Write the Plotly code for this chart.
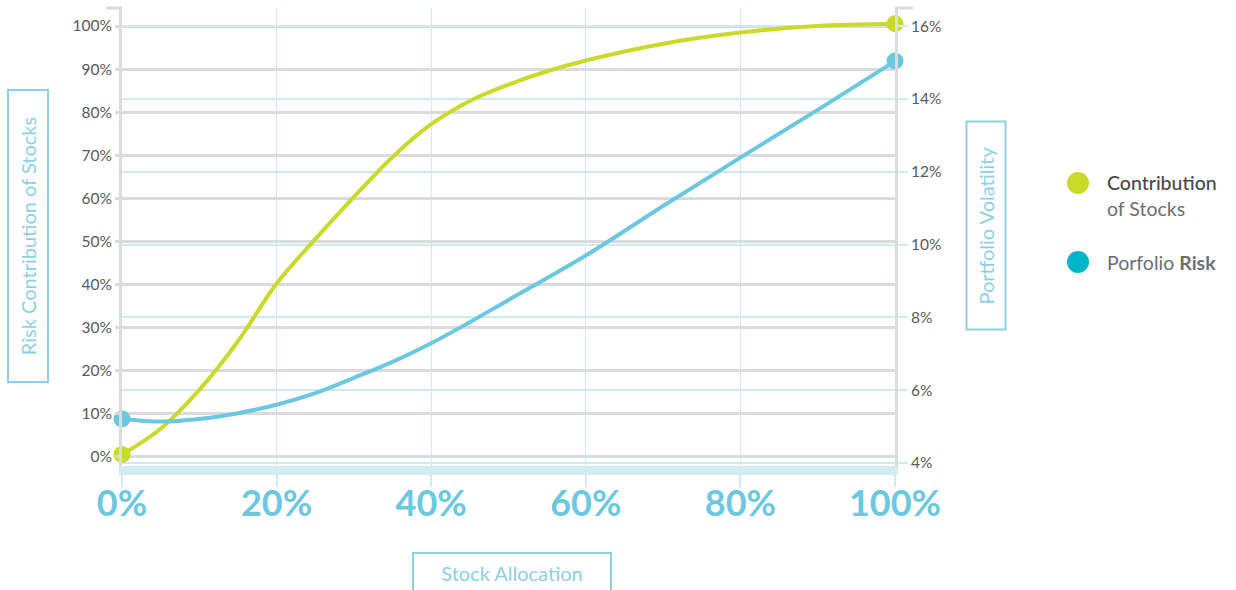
import plotly.graph_objects as go

# ---------------- data ----------------
alloc_contrib = [0, 5, 10, 15, 20, 25, 30, 35, 40, 45, 50, 55, 60, 70, 80, 90, 100]
contribution = [0.5, 6.5, 15.5, 26.8, 40.2, 50.5, 60.3, 69.6, 77.2, 82.6, 86.4, 89.5, 92.0, 95.9, 98.5, 100.0, 100.5]
alloc_vol = [0, 5, 10, 15, 20, 25, 30, 35, 40, 45, 50, 60, 70, 80, 90, 100]
volatility = [5.21, 5.14, 5.21, 5.37, 5.60, 5.92, 6.34, 6.78, 7.29, 7.87, 8.48, 9.70, 11.06, 12.39, 13.70, 15.04]

x_ticks = [0, 20, 40, 60, 80, 100]
left_ticks = [0, 10, 20, 30, 40, 50, 60, 70, 80, 90, 100]
right_ticks = [4, 6, 8, 10, 12, 14, 16]

series_names = ["Contribution", "of Stocks", "Porfolio <b>Risk</b>"]
title_left = "Risk Contribution of Stocks"
title_right = "Portfolio Volatility"
title_bottom = "Stock Allocation"

# ---------------- style ----------------
W, H = 1236, 590
L, R, T, B = 122, 895, 8, 466
FONT = "Lato"
GREEN = "#c9da2b"
BLUE = "#6cc8e0"
LEGEND_BLUE = "#00b4c8"
GRID_GREY = "#d9dcdd"
GRID_BLUE = "#cfeaf1"
BAND = "#d3ecef"
TXT = "#58595b"
TITLE_BLUE = "#8dd0e3"


def px(x):
    return (x - L) / (R - L)


def py(y):
    return (B - y) / (B - T)


def ends(n, s):
    return [s] + [0] * (n - 2) + [s]


fig = go.Figure()

fig.add_trace(go.Scatter(
    x=alloc_vol, y=volatility, yaxis="y2", mode="lines+markers",
    line=dict(color=BLUE, width=4, shape="spline", smoothing=1.0),
    marker=dict(color=BLUE, opacity=1, size=ends(len(alloc_vol), 17), line=dict(width=0)),
    cliponaxis=False, showlegend=False, hoverinfo="skip",
))
fig.add_trace(go.Scatter(
    x=alloc_contrib, y=contribution, yaxis="y", mode="lines+markers",
    line=dict(color=GREEN, width=4, shape="spline", smoothing=1.0),
    marker=dict(color=GREEN, opacity=1, size=ends(len(alloc_contrib), 17), line=dict(width=0)),
    cliponaxis=False, showlegend=False, hoverinfo="skip",
))

left_range = [-2.16, 104.18]
right_range = [3.919, 16.498]

fig.update_layout(
    width=W, height=H,
    margin=dict(l=L, r=W - R, t=T, b=H - B),
    paper_bgcolor="white", plot_bgcolor="white",
    font=dict(family=FONT, color=TXT),
    xaxis=dict(
        range=[0, 100], tickvals=x_ticks, ticktext=[f"{v}%" for v in x_ticks],
        showgrid=True, gridcolor=GRID_BLUE, gridwidth=1, zeroline=False,
        showline=True, linecolor=BAND, linewidth=9,
        ticks="outside", ticklen=12, tickcolor=GRID_BLUE, tickwidth=1.5,
        tickfont=dict(family=FONT, size=36, color=BLUE, weight=700),
        ticklabelstandoff=-14,
    ),
    yaxis=dict(
        range=left_range, tickvals=left_ticks, ticktext=[f"{v}%" for v in left_ticks],
        showgrid=True, gridcolor=GRID_GREY, gridwidth=3, zeroline=False,
        showline=True, linecolor=GRID_GREY, linewidth=3,
        ticks="outside", ticklen=4, tickcolor=GRID_GREY, tickwidth=3,
        tickfont=dict(family=FONT, size=15.5, color=TXT, weight=400),
    ),
    yaxis2=dict(
        range=right_range, overlaying="y", side="right",
        tickvals=right_ticks, ticktext=[f"{v}%" for v in right_ticks],
        showgrid=True, gridcolor=GRID_BLUE, gridwidth=1.5, zeroline=False,
        showline=True, linecolor=GRID_GREY, linewidth=3,
        ticks="outside", ticklen=10, tickcolor=GRID_BLUE, tickwidth=1.5,
        tickfont=dict(family=FONT, size=15.5, color=TXT, weight=400),
    ),
    yaxis3=dict(
        range=left_range, overlaying="y", side="right",
        tickvals=left_ticks, showticklabels=False, showgrid=False, zeroline=False,
        ticks="outside", ticklen=10, tickcolor=GRID_GREY, tickwidth=3,
    ),
)

shapes = [
    dict(type="line", xref="paper", yref="paper", x0=px(106), x1=0, y0=1, y1=1,
         line=dict(color=GRID_GREY, width=3)),
    dict(type="line", xref="paper", yref="paper", x0=1, x1=px(913), y0=1, y1=1,
         line=dict(color=GRID_GREY, width=3)),
    dict(type="circle", xref="paper", yref="paper", x0=px(1067), x1=px(1089),
         y0=py(194), y1=py(172), fillcolor=GREEN, line=dict(width=0)),
    dict(type="circle", xref="paper", yref="paper", x0=px(1067), x1=px(1089),
         y0=py(273), y1=py(251), fillcolor=LEGEND_BLUE, line=dict(width=0)),
]
fig.update_layout(shapes=shapes)

ann = []
# legend text
ann.append(dict(x=px(1105), y=py(183), xref="paper", yref="paper", text=series_names[0],
                showarrow=False, xanchor="left", yanchor="middle",
                font=dict(family=FONT, size=19.5, color="#4a4a4c", weight=500)))
ann.append(dict(x=px(1105), y=py(209), xref="paper", yref="paper", text=series_names[1],
                showarrow=False, xanchor="left", yanchor="middle",
                font=dict(family=FONT, size=19.5, color="#6d6e71", weight=400)))
ann.append(dict(x=px(1105), y=py(262), xref="paper", yref="paper", text=series_names[2],
                showarrow=False, xanchor="left", yanchor="middle",
                font=dict(family=FONT, size=19.5, color="#6d6e71", weight=400)))
# boxed axis titles
ann.append(dict(x=px(28), y=py(236), xref="paper", yref="paper", text=title_left,
                showarrow=False, textangle=-90, width=290, height=38, borderpad=0,
                bordercolor=TITLE_BLUE, borderwidth=2, xanchor="center", yanchor="middle",
                font=dict(family=FONT, size=20, color=TITLE_BLUE)))
ann.append(dict(x=px(985.5), y=py(226), xref="paper", yref="paper", text=title_right,
                showarrow=False, textangle=-90, width=206, height=37, borderpad=0,
                bordercolor=TITLE_BLUE, borderwidth=2, xanchor="center", yanchor="middle",
                font=dict(family=FONT, size=20, color=TITLE_BLUE)))
ann.append(dict(x=px(511.5), y=py(573), xref="paper", yref="paper", text=title_bottom,
                showarrow=False, width=196, height=38, borderpad=0,
                bordercolor=TITLE_BLUE, borderwidth=2, xanchor="center", yanchor="middle",
                font=dict(family=FONT, size=20, color=TITLE_BLUE)))
fig.update_layout(annotations=ann)

fig.write_html("out.html")
